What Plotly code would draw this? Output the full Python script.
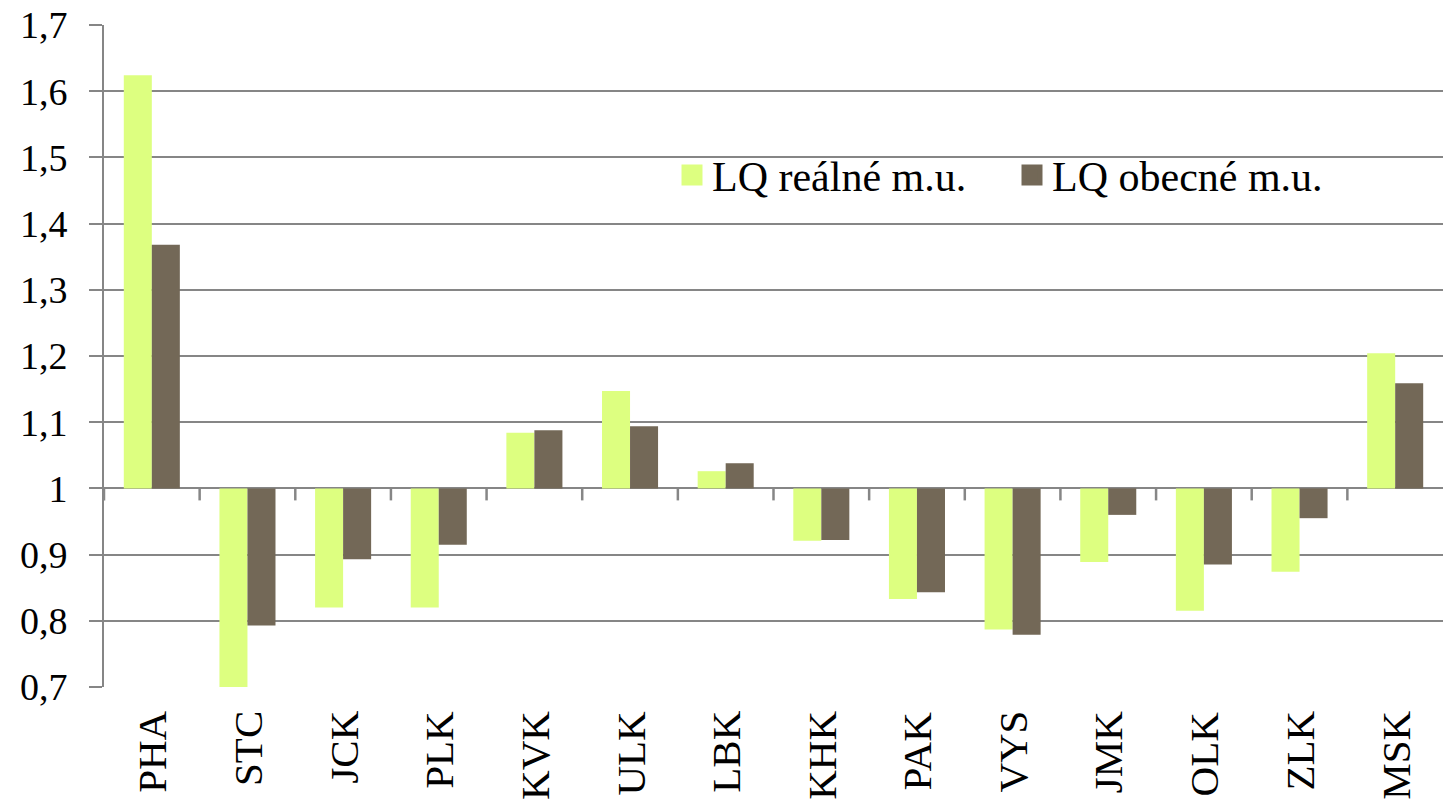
import plotly.graph_objects as go

# Regions (kraje) and location quotients
regions = ["PHA", "STC", "JCK", "PLK", "KVK", "ULK", "LBK",
           "KHK", "PAK", "VYS", "JMK", "OLK", "ZLK", "MSK"]
lq_realne = [1.624, 0.697, 0.820, 0.820, 1.084, 1.147, 1.026,
             0.921, 0.833, 0.787, 0.889, 0.815, 0.874, 1.204]
lq_obecne = [1.368, 0.793, 0.893, 0.915, 1.088, 1.094, 1.038,
             0.922, 0.843, 0.779, 0.960, 0.885, 0.955, 1.159]

series_names = ["LQ reálné m.u.", "LQ obecné m.u."]
colors = ["#DDFF80", "#736857"]

y_ticks = [0.7, 0.8, 0.9, 1.0, 1.1, 1.2, 1.3, 1.4, 1.5, 1.6, 1.7]
y_tick_text = ["0,7", "0,8", "0,9", "1", "1,1", "1,2", "1,3", "1,4", "1,5", "1,6", "1,7"]

baseline = 1.0
y_min, y_max = 0.7, 1.7
grid = "#868686"
font_family = "Times New Roman, Liberation Serif, DejaVu Serif, serif"

W, H = 1443, 805
M_L, M_R, M_T, M_B = 104, 0, 25, 118
plot_w = W - M_L - M_R
plot_h = H - M_T - M_B

fig = go.Figure()

for name, vals, col in zip(series_names, [lq_realne, lq_obecne], colors):
    fig.add_trace(go.Bar(
        x=regions,
        y=[v - baseline for v in vals],
        base=[baseline] * len(vals),
        name=name,
        marker=dict(color=col, line=dict(width=0)),
        showlegend=False,
    ))

for name, col in zip(series_names, colors):
    # legend-only entry with a larger square symbol
    fig.add_trace(go.Scatter(
        x=[None], y=[None], mode="markers", name=name,
        marker=dict(symbol="square", size=16, color=col,
                    line=dict(color=col, width=5)),
    ))

n = len(regions)
px_per_cat = plot_w / n
tick_len = 12 / plot_h * (y_max - y_min)
tick_w = 2.5 / px_per_cat

# category-separating tick marks hanging below the 1.0 baseline:
# thin bars placed on the left edge of each category slot
fig.add_trace(go.Bar(
    x=regions,
    y=[tick_len] * n,
    base=[baseline - tick_len] * n,
    width=tick_w,
    offset=-0.5 - tick_w / 2,
    marker=dict(color=grid, line=dict(width=0)),
    showlegend=False, hoverinfo="skip",
))

# region names under the plot area, rotated, anchored by their end
for r in regions:
    fig.add_annotation(
        x=r, xref="x", y=0, yref="paper",
        text=r, showarrow=False, textangle=-90,
        xanchor="center", yanchor="top", yshift=-22,
        font=dict(family=font_family, size=41, color="black"),
    )

fig.update_layout(
    width=W, height=H,
    margin=dict(l=M_L, r=M_R, t=M_T, b=M_B),
    paper_bgcolor="white", plot_bgcolor="white",
    font=dict(family=font_family, size=40, color="black"),
    barmode="group", bargap=0.414, bargroupgap=0,
    xaxis=dict(
        type="category", range=[-0.5, n - 0.5],
        showticklabels=False, ticks="",
        showline=False, showgrid=False, zeroline=False,
    ),
    yaxis=dict(
        range=[y_min, y_max], tickvals=y_ticks, ticktext=y_tick_text,
        showgrid=True, gridcolor=grid, gridwidth=2,
        showline=True, linecolor=grid, linewidth=2,
        ticks="outside", ticklen=13, tickwidth=2, tickcolor=grid,
        ticklabelstandoff=14, zeroline=False,
        tickfont=dict(family=font_family, size=38),
    ),
    legend=dict(
        orientation="h", x=0.4242, xanchor="left",
        y=0.773, yanchor="middle",
        bgcolor="rgba(0,0,0,0)", font=dict(family=font_family, size=42),
        entrywidth=295, entrywidthmode="pixels",
        itemsizing="trace",
    ),
)

fig.write_html("out.html")
